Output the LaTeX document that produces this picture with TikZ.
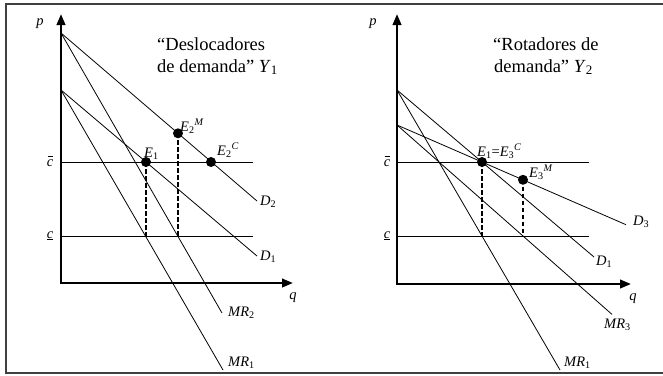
\documentclass[tikz,border=0pt]{standalone}
\usepackage{fontspec}
\setmainfont{Liberation Serif}
\usetikzlibrary{arrows.meta}
\newcommand\sbsp[2]{\textsubscript{#1}\textsuperscript{\textit{#2}}}
\newcommand\cbar{\ooalign{\textit{c}\cr\hidewidth\raisebox{0.62em}{\rule{0.36em}{0.055em}}\kern0.02em\cr}}
\begin{document}
\begin{tikzpicture}[x=1pt,y=-1pt,
  curve/.style={line width=0.8pt},
  axis/.style={line width=2.3pt,{Triangle[length=11pt,width=8.5pt]}-{Triangle[length=11pt,width=8.5pt]}},
  dashln/.style={line width=2pt,dash pattern=on 4.5pt off 2.5pt},
  dot/.style={circle,fill,minimum size=10pt,inner sep=0pt},
  lab/.style={font=\fontsize{14.5}{16}\selectfont,inner sep=0pt,anchor=base west},
  ttl/.style={font=\fontsize{18.5}{22}\selectfont,inner sep=0pt,anchor=base west}]
\useasboundingbox (0,0) rectangle (663,375);
\draw[line width=1.3pt,black!75] (663,4) -- (6,4) -- (6,373) -- (663,373);

% ---------- left panel ----------
\coordinate (La) at (61,33);
\coordinate (Lb) at (61,90);
\coordinate (LD2) at (257,201);
\coordinate (LD1) at (257,256);
\coordinate (LMR2) at (222,313);
\coordinate (LMR1) at (223,370);
\coordinate (Lcb0) at (61,162);
\coordinate (Lcb1) at (253,162);
\coordinate (Lc0) at (61,236);
\coordinate (Lc1) at (253,236);
\coordinate (LdA) at (146,236);
\coordinate (LdB) at (178,236);

\draw[curve] (Lcb0) -- (Lcb1);
\draw[curve] (Lc0) -- (Lc1);
\draw[curve] (La) -- (LD2);
\draw[curve] (Lb) -- (LD1);
\draw[curve] (La) -- (LMR2);
\draw[curve] (Lb) -- (LMR1);
\draw[axis] (61,14) -- (61,283) -- (293,283);

\node[dot] (LE1) at (146,162) {};
\node[dot] (LE2M) at (178,133.3) {};
\node[dot] (LE2C) at (211,162) {};
\draw[dashln] (LE1.center) -- (LdA);
\draw[dashln] (LE2M.center) -- (LdB);

\node[lab,anchor=base] (Lp) at (40,25) {\textit{p}};
\node[lab,anchor=base] (Lq) at (293,299) {\textit{q}};
\node[lab,anchor=base] (Lcb) at (50,166) {\cbar};
\node[lab,anchor=base] (Lc) at (50,238) {\underline{\textit{c}}};
\node[lab] (LtE1) at (144,157) {\textit{E}\textsubscript{1}};
\node[lab] (LtE2M) at (180,131) {\textit{E}\sbsp{2}{M}};
\node[lab] (LtE2C) at (217,155) {\textit{E}\sbsp{2}{C}};
\node[lab] (LtD2) at (260,205) {\textit{D}\textsubscript{2}};
\node[lab] (LtD1) at (260,260) {\textit{D}\textsubscript{1}};
\node[lab] (LtMR2) at (228,316) {\textit{MR}\textsubscript{2}};
\node[lab] (LtMR1) at (228,366) {\textit{MR}\textsubscript{1}};
\node[ttl] (Lt1) at (157,50) {“Deslocadores};
\node[ttl] (Lt2) at (157,72) {de demanda” \textit{Y}\textsubscript{1}};

% ---------- right panel ----------
\coordinate (Ra) at (397,90);
\coordinate (Rb) at (397,125);
\coordinate (RD1) at (594,257);
\coordinate (RD3) at (626,224.7);
\coordinate (RMR1) at (560,370);
\coordinate (RMR3) at (612,314.4);
\coordinate (Rcb0) at (397,162);
\coordinate (Rcb1) at (589,162);
\coordinate (Rc0) at (397,236);
\coordinate (Rc1) at (589,236);
\coordinate (RdA) at (482,236);
\coordinate (RdB) at (523,236);

\draw[curve] (Rcb0) -- (Rcb1);
\draw[curve] (Rc0) -- (Rc1);
\draw[curve] (Ra) -- (RD1);
\draw[curve] (Rb) -- (RD3);
\draw[curve] (Ra) -- (RMR1);
\draw[curve] (Rb) -- (RMR3);
\draw[axis] (397,14) -- (397,284) -- (631,284);

\node[dot] (RE1) at (482,162) {};
\node[dot] (RE3M) at (523,179.8) {};
\draw[dashln] (RE1.center) -- (RdA);
\draw[dashln] (RE3M.center) -- (RdB);

\node[lab,anchor=base] (Rp) at (373,25) {\textit{p}};
\node[lab,anchor=base] (Rq) at (633,300) {\textit{q}};
\node[lab,anchor=base] (Rcb) at (387,166) {\cbar};
\node[lab,anchor=base] (Rc) at (387,238) {\underline{\textit{c}}};
\node[lab] (RtE1) at (477,156) {\textit{E}\textsubscript{1}=\textit{E}\sbsp{3}{C}};
\node[lab] (RtE3M) at (529,177) {\textit{E}\sbsp{3}{M}};
\node[lab] (RtD3) at (633,225) {\textit{D}\textsubscript{3}};
\node[lab] (RtD1) at (596,265) {\textit{D}\textsubscript{1}};
\node[lab] (RtMR3) at (604,328) {\textit{MR}\textsubscript{3}};
\node[lab] (RtMR1) at (564,366) {\textit{MR}\textsubscript{1}};
\node[ttl] (Rt1) at (493,50) {“Rotadores de};
\node[ttl] (Rt2) at (494,72) {demanda” \textit{Y}\textsubscript{2}};
\end{tikzpicture}
\end{document}
